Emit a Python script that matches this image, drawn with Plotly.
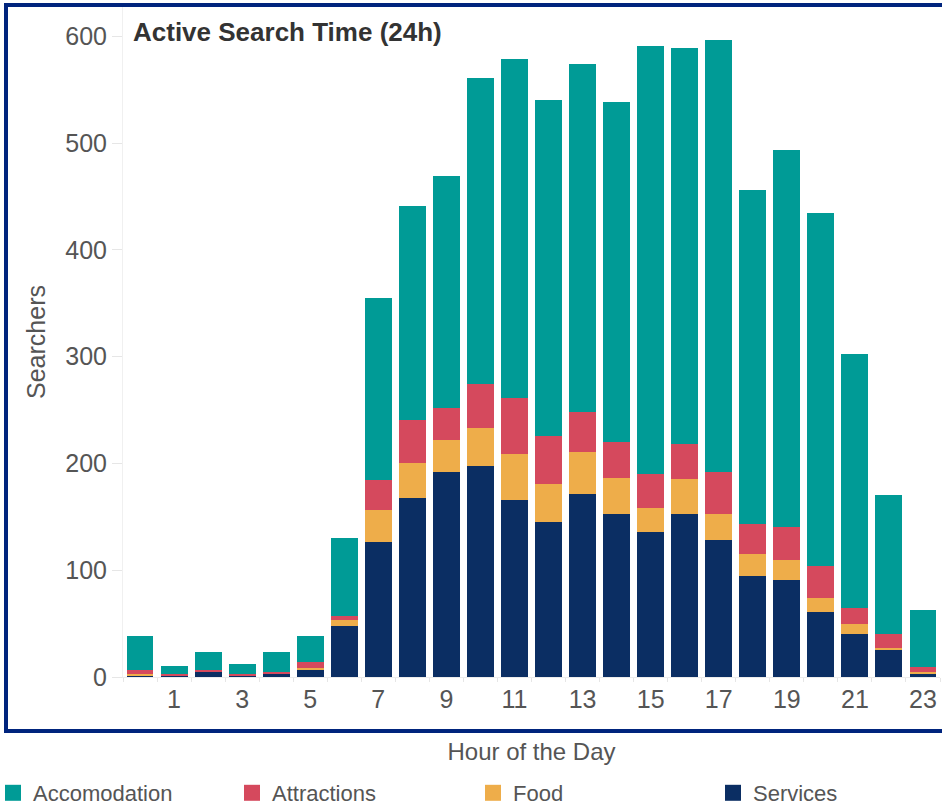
import plotly.graph_objects as go

hours = [str(h) for h in range(24)]
tick_text = [str(h) if h % 2 == 1 else "" for h in range(24)]

services = [1, 1, 5, 1, 3, 7, 48, 126, 168, 192, 198, 166, 145, 171, 153, 136, 153, 128, 95, 91, 61, 40, 25, 3]
food = [2, 0, 0, 0, 0, 1, 5, 30, 32, 30, 35, 43, 36, 40, 33, 22, 32, 25, 20, 19, 13, 10, 2, 2]
attractions = [4, 2, 2, 2, 2, 6, 4, 28, 41, 30, 41, 52, 45, 37, 34, 32, 33, 39, 28, 30, 30, 15, 13, 4]
accomodation = [31, 7, 16, 9, 18, 24, 73, 171, 200, 217, 287, 318, 314, 326, 318, 401, 371, 404, 313, 353, 330, 237, 130, 54]

# (name, values, colour, legend id, legend text left edge in px)
series = [
    ("Services", services, "#0B2E63", "legend4", 753),
    ("Food", food, "#EEAD4A", "legend3", 513),
    ("Attractions", attractions, "#D5495D", "legend2", 272),
    ("Accomodation", accomodation, "#009B96", "legend", 33),
]

FONT = "Liberation Sans, Arial, sans-serif"

W, H = 942, 808
L, R, T, B = 123, 2, 7, 131
pw, ph = W - L - R, H - T - B

def px_x(x):
    return (x - L) / pw

def px_y(y):
    return (H - B - y) / ph

fig = go.Figure()
legends = {}
for name, vals, color, leg, text_x in series:
    fig.add_trace(go.Bar(
        x=hours, y=vals, name=name, showlegend=False, legendgroup=name,
        marker=dict(color=color, line=dict(width=0)),
    ))
for name, vals, color, leg, text_x in series:
    # legend key only (larger square swatch, as in the original)
    fig.add_trace(go.Scatter(
        x=[None], y=[None], name=name, legend=leg, legendgroup=name,
        mode="markers", hoverinfo="skip",
        marker=dict(symbol="square", size=16, color=color),
    ))
    legends[leg] = dict(
        orientation="h",
        x=px_x(text_x - 40), xanchor="left",
        y=px_y(793), yanchor="middle",
        font=dict(size=22, color="#555555", family=FONT),
        bgcolor="rgba(0,0,0,0)",
    )

fig.update_layout(
    width=W, height=H,
    margin=dict(l=L, r=R, t=T, b=B, autoexpand=False),
    barmode="stack", bargap=0.21,
    plot_bgcolor="white", paper_bgcolor="white",
    font=dict(family=FONT, color="#555555"),
    showlegend=True,
    xaxis=dict(
        type="category", categoryorder="array", categoryarray=hours,
        tickmode="array", tickvals=hours, ticktext=tick_text, tickangle=0,
        tickson="boundaries", ticks="outside", ticklen=4, tickcolor="#e6e6e6",
        showline=True, linecolor="#ececec", linewidth=1,
        showgrid=False, zeroline=False,
        tickfont=dict(size=25, color="#555555", family=FONT),
        title=dict(text="Hour of the Day", standoff=31,
                   font=dict(size=24, color="#555555", family=FONT)),
    ),
    yaxis=dict(
        range=[0, ph / 1.068],
        tickmode="array", tickvals=[0, 100, 200, 300, 400, 500, 600],
        ticks="outside", ticklen=10, tickcolor="#e6e6e6",
        showline=True, linecolor="#f0f0f0", linewidth=1,
        showgrid=False, zeroline=False,
        tickfont=dict(size=25, color="#555555", family=FONT),
        title=dict(text="Searchers", standoff=12,
                   font=dict(size=25, color="#555555", family=FONT)),
    ),
    shapes=[dict(
        type="rect", xref="paper", yref="paper",
        x0=px_x(6), x1=px_x(948), y0=px_y(731), y1=px_y(5),
        line=dict(color="#00247D", width=4), fillcolor="rgba(0,0,0,0)",
        layer="above",
    )],
    annotations=[dict(
        text="<b>Active Search Time (24h)</b>",
        xref="paper", yref="paper",
        x=px_x(131), y=px_y(32), xanchor="left", yanchor="middle",
        showarrow=False,
        font=dict(size=26, color="#333333", family=FONT),
    )],
    **legends,
)

fig.write_html(
    "out.html",
    config={"displayModeBar": False},
    post_script="document.body.style.margin='0';document.body.style.overflow='hidden';",
)
